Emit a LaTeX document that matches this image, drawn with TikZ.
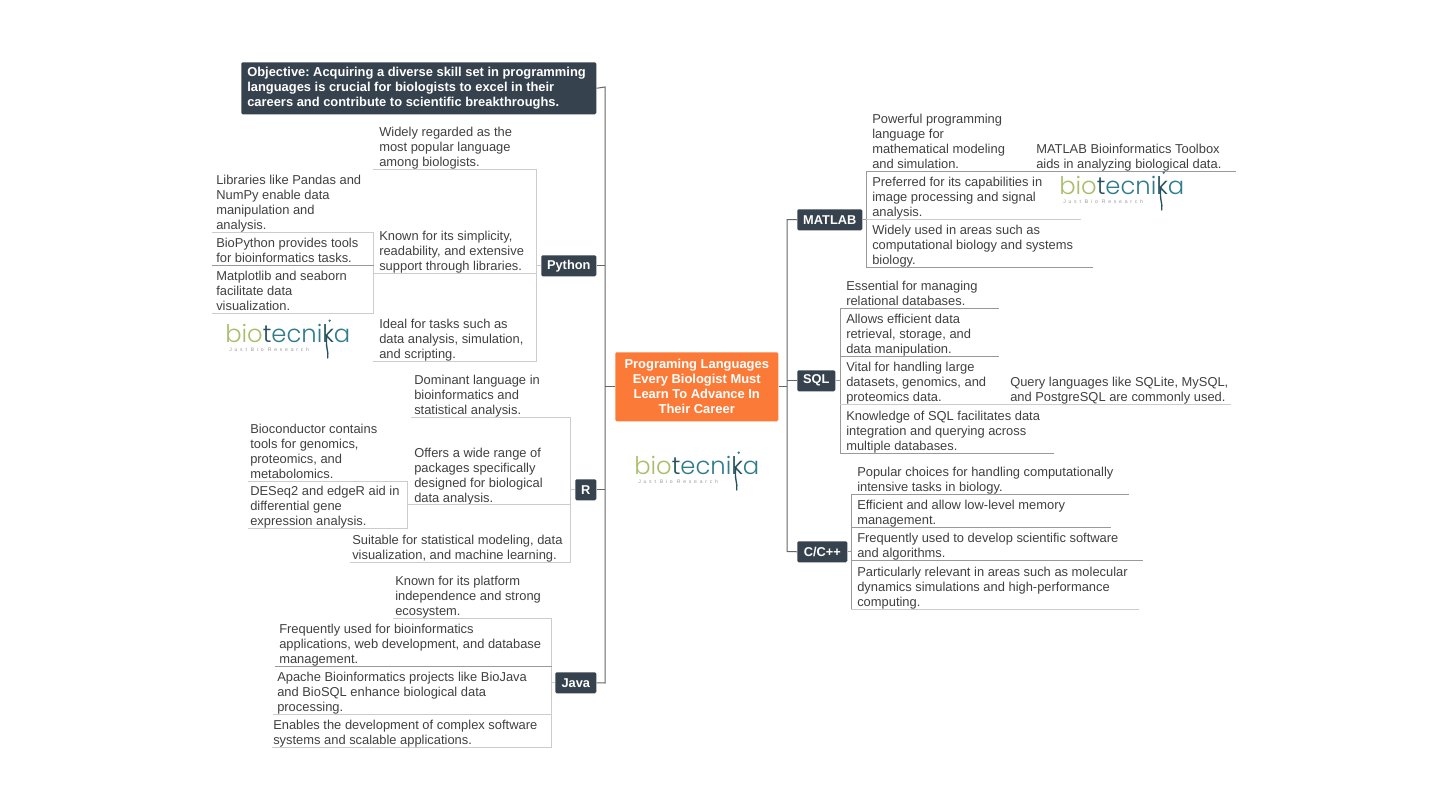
\documentclass[tikz,border=0pt]{standalone}
\usepackage{fontspec}
\setmainfont{Liberation Sans}
\newfontfamily\logofont{Poppins Light}
\newfontfamily\tagfont[LetterSpace=55]{Liberation Sans}
\definecolor{ink}{HTML}{404040}
\definecolor{slate}{HTML}{36424E}
\definecolor{orangeroot}{HTML}{FB7A37}
\definecolor{linedark}{HTML}{666666}
\definecolor{linemid}{HTML}{999999}
\definecolor{linelight}{HTML}{CCCCCC}
\definecolor{logogreen}{HTML}{A9BE6B}
\definecolor{logoteal}{HTML}{2F7C8A}
\definecolor{logodark}{HTML}{23525C}
\tikzset{
  leaf/.style={anchor=south west,inner sep=0pt,text=ink,font=\fontsize{9.68}{11.25}\selectfont},
  topic/.style={fill=slate,text=white,rounded corners=1pt,inner sep=0pt,font=\bfseries\fontsize{9.6}{11.2}\selectfont,anchor=north west},
  ul/.style={draw=linedark,line width=0.6pt},
  ulm/.style={draw=linemid,line width=0.6pt},
  ull/.style={draw=linelight,line width=0.6pt},
  spine/.style={draw=linedark,line width=0.75pt},
}
% \bioLogo{name}{x of left edge}{y of baseline}
\newcommand{\bioLogo}[3]{%
  \node[anchor=base west,inner sep=0pt,font=\logofont\fontsize{18.2}{18.2}\selectfont] (#1) at (#2,#3) {\textcolor{logogreen}{bio}\textcolor{logodark}{t}\textcolor{logoteal}{ecni}\textcolor{logodark}{k}\textcolor{logoteal}{a}};
  \node[anchor=north west,inner sep=0pt,text=linemid,font=\tagfont\fontsize{3.8}{4}\selectfont] (#1t) at ([xshift=3pt,yshift=-4pt]#1.base west) {Just\hspace{3pt}Bio\hspace{3pt}Research};
  \draw[logodark,line width=1pt,line cap=round] ([xshift=76.5pt,yshift=5pt]#1.base west) .. controls ([xshift=75pt,yshift=-4pt]#1.base west) and ([xshift=78pt,yshift=-7pt]#1.base west) .. ([xshift=77pt,yshift=-12pt]#1.base west);
  \fill[logoteal] ([xshift=78.5pt,yshift=16pt]#1.base west) circle (1pt);
}
% \lf{name}{x-left}{y-bottom}{width}{text-x offset}{text}
\newcommand{\lf}[6]{%
  \node[leaf,minimum width=#4*0.75pt] (#1) at (#2,#3) {\hspace*{\dimexpr#5pt*3/4\relax}\raisebox{1.6pt}[\dimexpr\height+1.6pt\relax][0pt]{\parbox[b]{\dimexpr(#4pt-#5pt)*3/4\relax}{\raggedright\frenchspacing #6}}};
}
\begin{document}
\begin{tikzpicture}[x=0.75pt,y=-0.75pt]
\useasboundingbox (0,0) rectangle (1440,810);
\fill[white] (0,0) rectangle (1440,810);
\node[fill=orangeroot,text=white,rounded corners=1pt,inner sep=0pt,anchor=north west,minimum width=122.25pt,minimum height=51.75pt,align=center,font=\bfseries\fontsize{9.7}{11.25}\selectfont] (root) at (615,352) {Programing Languages\\Every Biologist Must\\Learn To Advance In\\Their Career};
\node[fill=slate,text=white,rounded corners=1pt,inner sep=0pt,anchor=north west,minimum width=266.25pt,minimum height=39pt,font=\bfseries\fontsize{9.68}{11.4}\selectfont] (obj) at (241,62) {\hspace*{4.5pt}\parbox{261.75pt}{\raggedright\frenchspacing Objective: Acquiring a diverse skill set in programming\\languages is crucial for biologists to excel in their\\careers and contribute to scientific breakthroughs.}};
\node[topic,minimum width=41.25pt,minimum height=15.75pt] (python) at (541,255) {Python};
\node[topic,minimum width=15.75pt,minimum height=15.75pt] (r) at (575,479) {R};
\node[topic,minimum width=30.75pt,minimum height=15.75pt] (java) at (555,672) {Java};
\node[topic,minimum width=48.75pt,minimum height=15.75pt] (matlab) at (797,209) {MATLAB};
\node[topic,minimum width=28.5pt,minimum height=15.75pt] (sql) at (797,370) {SQL};
\node[topic,minimum width=37.5pt,minimum height=15.75pt] (cpp) at (797,541) {C/C++};
\coordinate (ltop) at (605,87);
\coordinate (lbot) at (605,683);
\coordinate (rtop) at (787,219.5);
\coordinate (rbot) at (787,551.5);
% main spines
\draw[spine] (obj.east) -- (ltop) -- (lbot) -- (java.east);
\draw[spine] (python.east) -- (python.east -| ltop);
\draw[spine] (r.east) -- (r.east -| ltop);
\draw[spine] (root.west) -- (root.west -| ltop);
\draw[spine] (matlab.west) -- (rtop) -- (rbot) -- (cpp.west);
\draw[spine] (sql.west) -- (sql.west -| rtop);
\draw[spine] (root.east) -- (root.east -| rtop);
% Python
\lf{pa}{373}{169}{163}{6}{Widely regarded as the\\most popular language\\among biologists.}
\lf{pb}{373}{273}{163}{6}{Known for its simplicity,\\readability, and extensive\\support through libraries.}
\lf{pc}{373}{361}{163}{6}{Ideal for tasks such as\\data analysis, simulation,\\and scripting.}
\lf{ppa}{212}{232}{161}{4}{Libraries like Pandas and\\NumPy enable data\\manipulation and\\analysis.}
\lf{ppb}{212}{265}{161}{4}{BioPython provides tools\\for bioinformatics tasks.}
\lf{ppc}{212}{313}{161}{4}{Matplotlib and seaborn\\facilitate data\\visualization.}
\draw[ull] (pa.south west) -- (pa.south east) -- (pc.south east) -- (pc.south west);
\draw[ull] (pb.south west) -- (pb.south east);
\draw[ull] (python.west) -- (python.west -| pa.south east);
\draw[ull] (ppa.south west) -- (ppa.south east) -- (ppc.south east) -- (ppc.south west);
\draw[ulm] (ppb.south west) -- (ppb.south east);
% R
\lf{ra}{411}{417}{159}{3}{Dominant language in\\bioinformatics and\\statistical analysis.}
\lf{rb}{408}{504.5}{162}{6}{Offers a wide range of\\packages specifically\\designed for biological\\data analysis.}
\lf{rc}{350}{562}{220}{2}{Suitable for statistical modeling, data\\visualization, and machine learning.}
\lf{rra}{248}{481}{159}{2}{Bioconductor contains\\tools for genomics,\\proteomics, and\\metabolomics.}
\lf{rrb}{248}{528}{159}{2}{DESeq2 and edgeR aid in\\differential gene\\expression analysis.}
\draw[ull] (ra.south west) -- (ra.south east) -- (rc.south east) -- (rc.south west);
\draw[ull] (rb.south west) -- (rb.south east);
\draw[ull] (r.west) -- (r.west -| ra.south east);
\draw[ull] (rra.south west) -- (rra.south east) -- (rrb.south east) -- (rrb.south west);
% Java
\lf{ja}{393}{618}{158}{2}{Known for its platform\\independence and strong\\ecosystem.}
\lf{jb}{275}{666}{276}{4}{Frequently used for bioinformatics\\applications, web development, and database\\management.}
\lf{jc}{273}{714}{278}{4}{Apache Bioinformatics projects like BioJava\\and BioSQL enhance biological data\\processing.}
\lf{jd}{272}{747}{279}{1}{Enables the development of complex software\\systems and scalable applications.}
\draw[ull] (ja.south west) -- (ja.south east) -- (jd.south east) -- (jd.south west);
\draw[ulm] (jb.south west) -- (jb.south east);
\draw[ull] (jc.south west) -- (jc.south east);
\draw[ull] (java.west) -- (java.west -| ja.south east);
% MATLAB
\lf{ma}{866}{171}{164}{6}{Powerful programming\\language for\\mathematical modeling\\and simulation.}
\lf{mb}{866}{219}{214}{6}{Preferred for its capabilities in\\image processing and signal\\analysis.}
\lf{mc}{866}{267}{226}{6}{Widely used in areas such as\\computational biology and systems\\biology.}
\lf{mma}{1030}{171}{205}{6}{MATLAB Bioinformatics Toolbox\\aids in analyzing biological data.}
\draw[ulm] (ma.south east) -- (ma.south west) -- (mc.south west) -- (mc.south east);
\draw[ulm] (mma.south west) -- (mma.south east);
\draw[ull] (mb.south west) -- (mb.south east);
\draw[ulm] (matlab.east) -- (matlab.east -| mb.south west);
% SQL
\lf{sa}{840}{308}{158}{6}{Essential for managing\\relational databases.}
\lf{sb}{840}{356}{158}{6}{Allows efficient data\\retrieval, storage, and\\data manipulation.}
\lf{sc}{840}{404}{163}{6}{Vital for handling large\\datasets, genomics, and\\proteomics data.}
\lf{sd}{840}{453}{213}{6}{Knowledge of SQL facilitates data\\integration and querying across\\multiple databases.}
\lf{ssa}{1003}{404}{227}{7}{Query languages like SQLite, MySQL,\\and PostgreSQL are commonly used.}
\draw[ulm] (sa.south east) -- (sa.south west) -- (sd.south west) -- (sd.south east);
\draw[ulm] (sb.south west) -- (sb.south east);
\draw[ull] (sc.south west) -- (sc.south east);
\draw[ull] (ssa.south west) -- (ssa.south east);
\draw[ulm] (sql.east) -- (sql.east -| sa.south west);
% C
\lf{ca}{851}{494}{277}{6}{Popular choices for handling computationally\\intensive tasks in biology.}
\lf{cb}{851}{527}{259}{6}{Efficient and allow low-level memory\\management.}
\lf{cc}{851}{560}{291}{6}{Frequently used to develop scientific software\\and algorithms.}
\lf{cd}{851}{609}{287}{6}{Particularly relevant in areas such as molecular\\dynamics simulations and high-performance\\computing.}
\draw[ulm] (ca.south east) -- (ca.south west) -- (cd.south west);
\draw[ull] (cd.south west) -- (cd.south east);
\draw[ulm] (cb.south west) -- (cb.south east);
\draw[ulm] (cc.south west) -- (cc.south east);
\draw[ulm] (cpp.east) -- (cpp.east -| ca.south west);
% logos
\bioLogo{loga}{225}{342}
\bioLogo{logb}{634}{474}
\bioLogo{logc}{1059}{194}
\end{tikzpicture}
\end{document}
